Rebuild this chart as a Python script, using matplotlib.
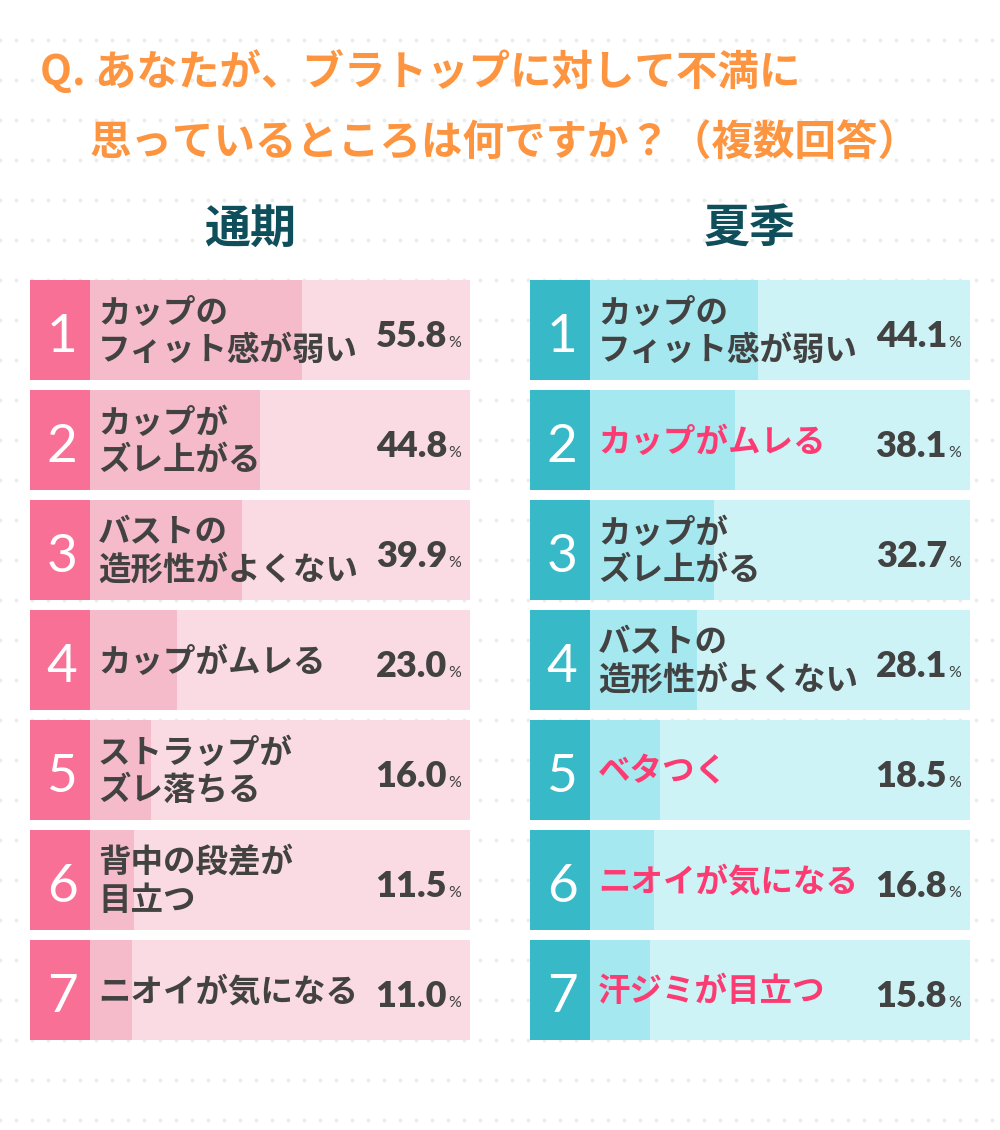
import matplotlib
matplotlib.use("Agg")
import matplotlib.pyplot as plt
import numpy as np

plt.rcParams["font.family"] = ["Noto Sans CJK JP", "DejaVu Sans"]

# --- data -------------------------------------------------------------
title_lines = ["Q. あなたが、ブラトップに対して不満に", "思っているところは何ですか？（複数回答）"]
panel_titles = ["通期", "夏季"]

left_labels = [
    "カップの\nフィット感が弱い",
    "カップが\nズレ上がる",
    "バストの\n造形性がよくない",
    "カップがムレる",
    "ストラップが\nズレ落ちる",
    "背中の段差が\n目立つ",
    "ニオイが気になる",
]
left_values = [55.8, 44.8, 39.9, 23.0, 16.0, 11.5, 11.0]

right_labels = [
    "カップの\nフィット感が弱い",
    "カップがムレる",
    "カップが\nズレ上がる",
    "バストの\n造形性がよくない",
    "ベタつく",
    "ニオイが気になる",
    "汗ジミが目立つ",
]
right_values = [44.1, 38.1, 32.7, 28.1, 18.5, 16.8, 15.8]
right_highlight = [False, True, False, False, True, True, True]
left_highlight = [False] * len(left_labels)

ranks = [str(i + 1) for i in range(len(left_labels))]

# --- style --------------------------------------------------------------
W, H = 1000, 1130
PT = 0.72  # px -> pt at dpi 100
ORANGE = "#fd9540"
TEAL_DARK = "#0f4e5b"
TEXT = "#424242"
HILITE = "#fd3b73"
palettes = [
    dict(box="#f87095", fill="#f5bbca", bg="#fadbe3"),
    dict(box="#38b9c8", fill="#a6e8f0", bg="#cef3f6"),
]

ROW_TOP = 280
ROW_H = 100
ROW_STEP = 110
BOX_W = 60
BAR_W = 380
SCALE = BAR_W / 100.0

fig = plt.figure(figsize=(W / 100, H / 100), dpi=100)
ax = fig.add_axes([0, 0, 1, 1])
ax.set_xlim(0, W)
ax.set_ylim(H, 0)
ax.axis("off")

# dotted background
gx, gy = np.meshgrid(np.arange(0, W + 1, 16), np.arange(40, H, 40))
ax.scatter(gx.ravel(), gy.ravel(), s=8, color="#ececec", linewidths=0, zorder=0)

# question title
ax.text(40, 72, title_lines[0], color=ORANGE, fontsize=41.5 * PT, fontweight="bold",
        ha="left", va="center")
ax.text(90, 143, title_lines[1], color=ORANGE, fontsize=41.5 * PT, fontweight="bold",
        ha="left", va="center")

panels = [
    (30, left_labels, left_values, left_highlight),
    (530, right_labels, right_values, right_highlight),
]

for p, (x0, labels, values, hl) in enumerate(panels):
    pal = palettes[p]
    ax.text(x0 + 220, 229, panel_titles[p], color=TEAL_DARK, fontsize=46 * PT,
            fontweight="bold", ha="center", va="center")

    n = len(labels)
    centers = ROW_TOP + ROW_H / 2 + ROW_STEP * np.arange(n)
    bar_left = x0 + BOX_W

    ax.barh(centers, [BOX_W] * n, left=x0, height=ROW_H, color=pal["box"], zorder=2)
    ax.barh(centers, [BAR_W] * n, left=bar_left, height=ROW_H, color=pal["bg"], zorder=2)
    ax.barh(centers, np.array(values) * SCALE, left=bar_left, height=ROW_H,
            color=pal["fill"], zorder=3)

    for i in range(n):
        cy = centers[i]
        top = cy - ROW_H / 2
        ax.text(x0 + 32, top + 72, ranks[i], color="white", fontsize=53 * PT,
                family=["Lato", "DejaVu Sans"], fontweight="normal",
                ha="center", va="baseline", zorder=5)
        ax.text(bar_left + 8, cy + 2, labels[i], color=HILITE if hl[i] else TEXT,
                fontsize=32.5 * PT, fontweight="bold", ha="left", va="center",
                linespacing=1.17, zorder=5)
        ax.text(x0 + 417, top + 67, f"{values[i]:.1f}", color=TEXT, fontsize=36 * PT,
                family=["Lato", "DejaVu Sans"], fontweight="heavy",
                ha="right", va="baseline", zorder=5)
        ax.text(x0 + 418, top + 67, "%", color=TEXT, fontsize=16 * PT,
                family=["Lato", "DejaVu Sans"], ha="left", va="baseline", zorder=5)

fig.savefig("out.png", dpi=100, facecolor="white")
